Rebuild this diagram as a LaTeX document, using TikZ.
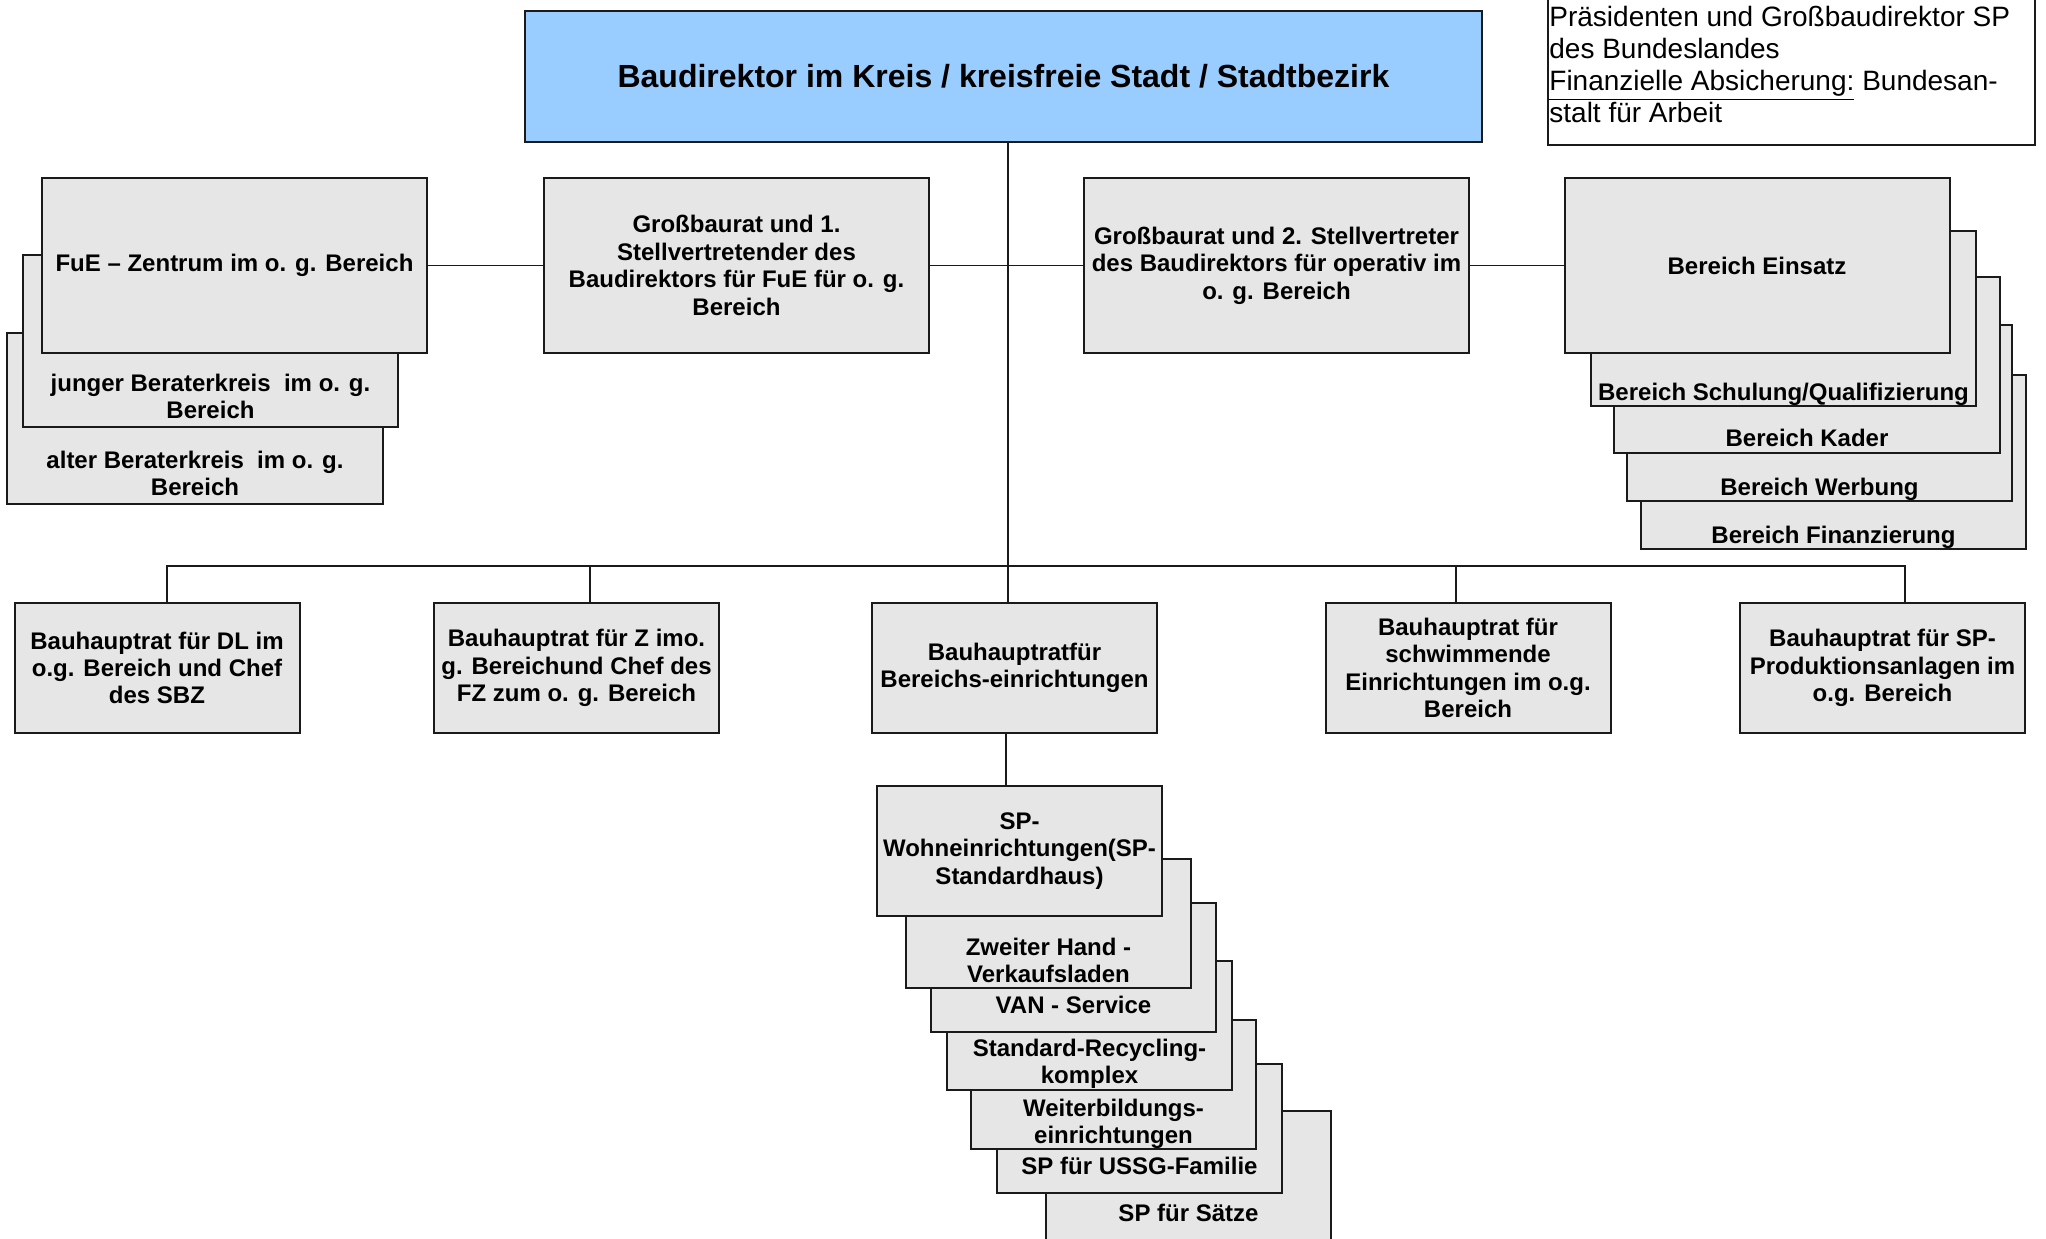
\documentclass[tikz,border=0pt]{standalone}
\usepackage{fontspec}
\setmainfont{Liberation Sans}
\usetikzlibrary{positioning}

\definecolor{boxgray}{HTML}{E6E6E6}
\definecolor{headblue}{HTML}{99CCFF}
\definecolor{linegray}{HTML}{1A1A1A}

\begin{document}
\begin{tikzpicture}[x=0.5pt,y=-0.5pt,
    every node/.style={font=\fontsize{12}{13.7}\selectfont\bfseries},
    unitbox/.style={draw=linegray,line width=1pt,fill=boxgray,align=center,inner sep=2pt},
    midbox/.style={unitbox,minimum width=192.5pt,minimum height=87.5pt},
    lowbox/.style={unitbox,minimum width=142.5pt,minimum height=65pt},
    stackbox/.style={draw=linegray,line width=1pt,fill=boxgray,inner sep=0pt},
    stacktext/.style={align=center,inner sep=0pt},
    link/.style={draw=linegray,line width=0.9pt}]
  \useasboundingbox[fill=white] (0,0) rectangle (2046,1238);

  % head of the chart
  \node[unitbox,fill=headblue,minimum width=478.5pt,minimum height=65.5pt,
        font=\fontsize{16}{18}\selectfont\bfseries] (head) at (1003.5,76.5)
       {Baudirektor im Kreis / kreisfreie Stadt / Stadtbezirk};

  % note in the corner
  \draw[draw=linegray,line width=1pt] (1548,-10) rectangle (2035,145);
  \node[anchor=north west,align=left,inner sep=0pt,
        font=\fontsize{14}{16}\selectfont] (info) at (1549,6)
       {Präsidenten und Großbaudirektor SP\\des Bundeslandes\\
        \underline{Finanzielle Absicherung:} Bundesan-\\stalt für Arbeit};

  % left stack
  \node[stackbox,minimum width=188pt,minimum height=85.5pt] (alter) at (195,418.5) {};
  \node[stacktext,above=0.4pt of alter.south] (altertxt) {alter Beraterkreis\ \ im o. g.\\Bereich\strut};
  \node[stackbox,minimum width=187.5pt,minimum height=86pt] (junger) at (210.5,341) {};
  \node[stacktext,above=0.4pt of junger.south] (jungertxt) {junger Beraterkreis\ \ im o. g.\\Bereich\strut};
  \node[midbox] (fue) at (234.5,265.5) {FuE -- Zentrum im o. g. Bereich};

  % deputies
  \node[midbox] (gr1) at (736.5,265.5)
       {Großbaurat und 1.\\Stellvertretender des\\Baudirektors für FuE für o. g.\\Bereich};
  \node[midbox] (gr2) at (1276.5,265.5)
       {Großbaurat und 2. Stellvertreter\\des Baudirektors für operativ im\\o. g. Bereich};

  % right stack
  \node[stackbox,minimum width=192.5pt,minimum height=87pt] (fin) at (1833.5,462) {};
  \node[stacktext,above=-1.1pt of fin.south] (fintxt) {Bereich Finanzierung\strut};
  \node[stackbox,minimum width=192.5pt,minimum height=88pt] (werb) at (1819.5,413) {};
  \node[stacktext,above=-1.1pt of werb.south] (werbtxt) {Bereich Werbung\strut};
  \node[stackbox,minimum width=193pt,minimum height=88pt] (kader) at (1807,365) {};
  \node[stacktext,above=-0.6pt of kader.south] (kadertxt) {Bereich Kader\strut};
  \node[stackbox,minimum width=192.5pt,minimum height=87.5pt] (schul) at (1783.5,318.5) {};
  \node[stacktext,above=-1.1pt of schul.south] (schultxt) {Bereich Schulung/Qualifizierung\strut};
  \node[midbox] (ein) at (1757,265.5) {Bereich Einsatz};

  % lower row
  \node[lowbox] (dl) at (157,668) {Bauhauptrat für DL im\\o.g. Bereich und Chef\\des SBZ};
  \node[lowbox] (zfz) at (576.5,668) {Bauhauptrat für Z imo.\\g. Bereichund Chef des\\FZ zum o. g. Bereich};
  \node[lowbox] (ber) at (1014.5,668) {Bauhauptratfür\\Bereichs-einrichtungen};
  \node[lowbox] (schw) at (1468,668)
       {Bauhauptrat für\\schwimmende\\Einrichtungen im o.g.\\Bereich};
  \node[lowbox] (prod) at (1882.5,668) {Bauhauptrat für SP-\\Produktionsanlagen im\\o.g. Bereich};

  % bottom stack
  \node[stackbox,minimum width=142.5pt,minimum height=64.5pt] (saetze) at (1188.5,1175.5) {};
  \node[stacktext,above=5.4pt of saetze.south] (saetzetxt) {SP für Sätze\strut};
  \node[stackbox,minimum width=142.5pt,minimum height=64.5pt] (ussg) at (1139.5,1128.5) {};
  \node[stacktext,above=5.4pt of ussg.south] (ussgtxt) {SP für USSG-Familie\strut};
  \node[stackbox,minimum width=142.5pt,minimum height=64.5pt] (weiter) at (1113.5,1084.5) {};
  \node[stacktext,above=-1.1pt of weiter.south] (weitertxt) {Weiterbildungs-\\einrichtungen\strut};
  \node[stackbox,minimum width=142.5pt,minimum height=64.5pt] (recyc) at (1089.5,1025.5) {};
  \node[stacktext,above=-0.6pt of recyc.south] (recyctxt) {Standard-Recycling-\\komplex\strut};
  \node[stackbox,minimum width=142.5pt,minimum height=64.5pt] (van) at (1073.5,967.5) {};
  \node[stacktext,above=5.4pt of van.south] (vantxt) {VAN - Service\strut};
  \node[stackbox,minimum width=142.5pt,minimum height=64.5pt] (zweit) at (1048.5,923.5) {};
  \node[stacktext,above=-1.1pt of zweit.south] (zweittxt) {Zweiter Hand -\\Verkaufsladen\strut};
  \node[lowbox] (wohn) at (1019.5,851) {SP-\\Wohneinrichtungen(SP-\\Standardhaus)};

  % connectors
  \coordinate (bus) at (1008,566);
  \draw[link] (head.south -| bus) -- (bus);
  \draw[link] (fue.east) -- (gr1.west);
  \draw[link] (gr1.east) -- (gr2.west);
  \draw[link] (gr2.east) -- (ein.west);
  \draw[link] ([xshift=5pt]dl.north) |- (bus) -| ([xshift=11.25pt]prod.north);
  \draw[link] ([xshift=6.75pt]zfz.north) -- ([xshift=6.75pt]zfz.north |- bus);
  \draw[link] (bus) -- (bus |- ber.north);
  \draw[link] ([xshift=-6pt]schw.north) -- ([xshift=-6pt]schw.north |- bus);
  \draw[link] ([xshift=-4.25pt]ber.south) -- ([xshift=-4.25pt]ber.south |- wohn.north);
\end{tikzpicture}
\end{document}
